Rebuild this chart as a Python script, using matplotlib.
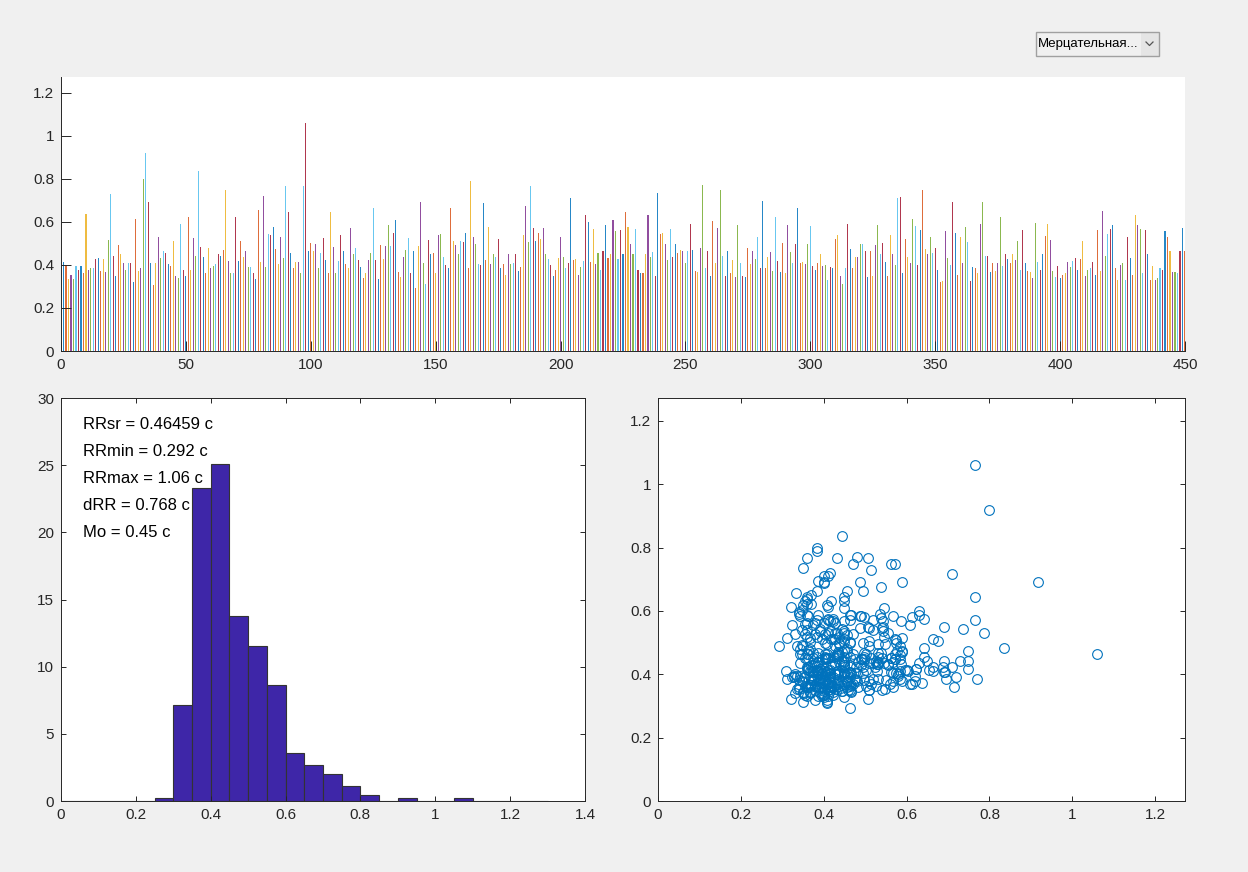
import numpy as np
import matplotlib
matplotlib.use('Agg')
import matplotlib.pyplot as plt
from matplotlib.patches import Rectangle

plt.rcParams['font.family'] = ['Liberation Sans', 'DejaVu Sans']

# RR intervals, seconds
rr = [0.415,0.40,0.335,0.355,0.335,0.395,0.374,0.395,0.36,0.638,
      0.374,0.386,0.383,0.428,0.431,0.37,0.428,0.368,0.515,0.73,
      0.443,0.348,0.492,0.448,0.408,0.374,0.408,0.408,0.32,0.612,
      0.37,0.383,0.80,0.918,0.692,0.408,0.308,0.41,0.53,0.431,
      0.463,0.455,0.403,0.395,0.51,0.35,0.34,0.59,0.378,0.35,
      0.62,0.378,0.526,0.443,0.835,0.483,0.438,0.363,0.478,0.383,
      0.395,0.403,0.45,0.443,0.47,0.748,0.418,0.36,0.36,0.623,
      0.418,0.51,0.435,0.463,0.39,0.39,
      0.36,0.332,0.655,0.415,0.72,0.39,0.543,0.538,0.577,0.475,
      0.403,0.528,0.431,0.766,0.643,0.455,0.383,0.415,0.415,0.36,
      0.766,1.06,0.463,0.503,0.463,0.498,0.383,0.455,0.523,0.423,
      0.36,0.643,0.483,0.36,0.418,0.538,0.466,0.403,0.383,0.571,
      0.448,0.478,0.423,0.39,0.34,0.36,0.423,0.455,0.663,0.423,
      0.335,0.49,0.428,0.488,0.583,0.488,0.546,0.608,0.368,0.343,
      0.435,0.47,0.526,0.363,0.463,0.292,0.488,0.69,0.408,0.312,
      0.515,0.45,0.455,0.36,
      0.54,0.545,0.435,0.40,0.383,0.663,0.51,0.49,0.448,0.51,
      0.506,0.55,0.383,0.788,0.53,0.495,0.403,0.40,0.688,0.423,
      0.575,0.403,0.448,0.438,0.518,0.386,0.403,0.355,0.45,0.403,
      0.408,0.448,0.37,0.39,0.538,0.675,0.506,0.766,0.571,0.51,
      0.546,0.518,0.571,0.448,0.428,0.40,0.348,0.378,0.431,0.53,
      0.438,0.386,0.41,0.71,0.423,0.428,0.355,0.39,0.418,0.63,
      0.60,0.415,0.568,0.403,0.455,0.375,0.466,0.586,0.431,0.45,
      0.608,0.555,0.428,0.563,
      0.45,0.643,0.575,0.498,0.448,0.568,0.378,0.363,0.36,0.448,
      0.63,0.435,0.458,0.35,0.735,0.543,0.548,0.495,0.423,0.568,
      0.438,0.498,0.455,0.47,0.463,0.408,0.463,0.588,0.47,0.37,
      0.366,0.48,0.771,0.386,0.466,0.348,0.603,0.41,0.571,0.748,
      0.443,0.348,0.463,0.363,0.423,0.343,0.583,0.41,0.35,0.343,
      0.48,0.403,0.463,0.428,0.53,0.386,0.695,0.386,0.438,0.46,
      0.37,0.623,0.418,0.366,0.503,0.363,0.583,0.46,0.408,0.495,
      0.663,0.41,0.415,0.403,
      0.498,0.58,0.395,0.375,0.41,0.45,0.395,0.40,0.328,0.39,
      0.383,0.518,0.54,0.35,0.312,0.386,0.588,0.475,0.386,0.438,
      0.438,0.495,0.498,0.466,0.343,0.463,0.35,0.49,0.583,0.448,
      0.503,0.415,0.348,0.54,0.45,0.40,0.71,0.715,0.36,0.518,
      0.435,0.41,0.612,0.58,0.40,0.563,0.748,0.475,0.448,0.53,
      0.455,0.48,0.378,0.32,0.323,0.555,0.431,0.40,0.69,0.548,
      0.355,0.528,0.41,0.575,0.508,0.323,0.39,0.386,0.36,0.588,
      0.69,0.443,0.443,0.366,
      0.41,0.37,0.408,0.62,0.395,0.448,0.428,0.408,
      0.45,0.423,0.51,0.378,0.563,0.408,0.37,0.366,0.34,0.595,
      0.415,0.375,0.45,0.535,0.59,0.515,0.37,0.343,0.395,0.34,
      0.355,0.363,0.415,0.39,0.418,0.431,0.375,0.428,0.51,0.35,
      0.375,0.383,0.415,0.355,0.56,0.37,0.65,0.443,0.543,0.568,
      0.583,0.386,0.33,0.40,0.41,0.33,0.528,0.431,0.355,0.63,
      0.586,0.568,0.36,0.563,0.45,0.328,0.395,0.33,0.34,0.383,
      0.374,0.555,0.53,0.466,0.366,0.366,0.36,0.463,0.572,0.463]

# histogram, percent per 0.05 s bin from 0 to 1.3
bin_edges = np.arange(0, 1.3, 0.05)
hist_pct = [0, 0, 0, 0, 0, 0.22, 7.11, 23.33, 25.11, 13.78, 11.56, 8.67, 3.56,
            2.67, 2.0, 1.11, 0.44, 0, 0.22, 0, 0, 0.22, 0, 0, 0, 0]

stats_text = ['RRsr = 0.46459 c', 'RRmin = 0.292 c', 'RRmax = 1.06 c',
              'dRR = 0.768 c', 'Mo = 0.45 c']
menu_label = 'Мерцательная...'

matlab_colors = ['#0072BD', '#D95319', '#EDB120', '#7E2F8E',
                 '#77AC30', '#4DBEEE', '#A2142F']
axcol = '#262626'

rr = np.array(rr)
n = np.arange(1, len(rr) + 1)
lim = 1.2 * rr.max()

fig = plt.figure(figsize=(12.48, 8.72), dpi=100, facecolor='#f0f0f0')


def style(ax, ticklen, box=True):
    for s in ax.spines.values():
        s.set_color(axcol)
        s.set_linewidth(0.7)
    if not box:
        ax.spines['top'].set_visible(False)
        ax.spines['right'].set_visible(False)
    ax.tick_params(direction='in', length=ticklen, width=0.7, colors=axcol,
                   labelsize=11, top=box, right=box, pad=5)


# top: RR sequence
ax1 = fig.add_axes([61/1248, 1 - 351/872, 1124/1248, 274/872])
bar_colors = [matlab_colors[i % 7] for i in range(len(rr))]
ax1.bar(n, rr, width=0.42, color=bar_colors, linewidth=0, alpha=0.85)
ax1.set_xlim(0, 450)
ax1.set_ylim(0, lim)
ax1.set_xticks(np.arange(0, 451, 50))
ax1.set_yticks(np.arange(0, 1.21, 0.2))
ax1.set_yticklabels(['0', '0.2', '0.4', '0.6', '0.8', '1', '1.2'])
style(ax1, 7, box=False)

# bottom left: histogram
ax2 = fig.add_axes([61/1248, 1 - 801/872, 524/1248, 403/872])
ax2.bar(bin_edges, hist_pct, width=0.05, align='edge', color='#3e26a8',
        edgecolor='#333333', linewidth=0.8)
ax2.set_xlim(0, 1.4)
ax2.set_ylim(0, 30)
ax2.set_xticks(np.arange(0, 1.41, 0.2))
ax2.set_xticklabels(['0', '0.2', '0.4', '0.6', '0.8', '1', '1.2', '1.4'])
ax2.set_yticks(np.arange(0, 31, 5))
for i, t in enumerate(stats_text):
    ax2.text(0.06, 28 - 2 * i, t, fontsize=12, va='center', ha='left', color='black')
style(ax2, 3.6)

# bottom right: Poincare plot
ax3 = fig.add_axes([658/1248, 1 - 801/872, 527/1248, 403/872])
ax3.plot(rr[:-1], rr[1:], 'o', markersize=7, markerfacecolor='none',
         markeredgecolor='#0072BD', markeredgewidth=0.8)
ax3.set_xlim(0, lim)
ax3.set_ylim(0, lim)
ticks = np.arange(0, 1.21, 0.2)
labels = ['0', '0.2', '0.4', '0.6', '0.8', '1', '1.2']
ax3.set_xticks(ticks)
ax3.set_xticklabels(labels)
ax3.set_yticks(ticks)
ax3.set_yticklabels(labels)
style(ax3, 3.6)

# popup menu
axm = fig.add_axes([1035/1248, 1 - 56/872, 124/1248, 24/872])
axm.set_xlim(0, 124)
axm.set_ylim(0, 24)
axm.axis('off')
axm.add_patch(Rectangle((106, 0.5), 17.5, 23, facecolor='#e5e5e5', edgecolor='none'))
axm.add_patch(Rectangle((0.5, 0.5), 123, 23, facecolor='none', edgecolor='#a0a0a0',
                        lw=1, clip_on=False))
axm.plot([111, 114.5, 118], [14, 10.5, 14], color='#555555', lw=0.9)
axm.text(3, 12, menu_label, fontsize=9.5, va='center', ha='left', color='black')

fig.savefig('out.png', dpi=100, facecolor=fig.get_facecolor())
